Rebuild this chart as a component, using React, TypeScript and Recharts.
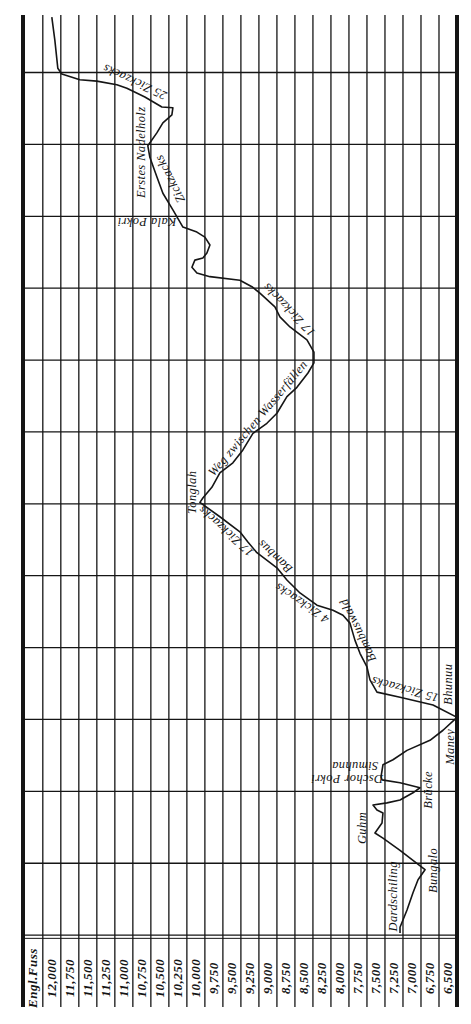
import React from "react";
import { ScatterChart, Scatter, XAxis, YAxis, ReferenceLine } from "recharts";

// elevation (engl. feet) and distance along the route (grid rows, top = 0.2)
const profileElev = [
  12000, 11958, 11917, 11861, 11611, 11375, 11097, 10958, 10708, 10472, 10319, 10333,
  10458, 10542, 10667, 10639, 10542, 10458, 10319, 10180, 9986, 9875, 9805, 9847,
  9903, 10014, 10055, 9986, 9805, 9389, 9222, 9111, 8903, 8833, 8694, 8458,
  8361, 8361, 8444, 8597, 8736, 8875, 9014, 9111, 9208, 9347, 9486, 9667,
  9778, 9903, 9944, 9667, 9389, 9278, 9153, 8875, 8736, 8555, 8319, 8097,
  7958, 7861, 7791, 7722, 7625, 7583, 7486, 7166, 6708, 6375, 6569, 6750,
  7069, 7264, 7403, 7430, 7416, 7166, 6889, 6986, 7166, 7347, 7541, 7486,
  7403, 7416, 7514, 7403, 7166, 6986, 6819, 6916, 6986, 7069, 7166, 7166,
];
const profileDist = [
  0.23, 0.55, 0.94, 1.02, 1.1, 1.12, 1.17, 1.22, 1.34, 1.48, 1.49, 1.59,
  1.7, 1.84, 2.02, 2.18, 2.45, 2.68, 2.91, 3.15, 3.22, 3.29, 3.4, 3.51,
  3.58, 3.61, 3.71, 3.79, 3.84, 3.89, 3.98, 4.07, 4.26, 4.4, 4.54, 4.72,
  4.89, 5.04, 5.18, 5.38, 5.51, 5.74, 5.88, 5.95, 6.02, 6.25, 6.43, 6.57,
  6.77, 6.92, 6.98, 7.18, 7.39, 7.53, 7.68, 7.89, 8.06, 8.24, 8.41, 8.48,
  8.55, 8.66, 8.9, 9.08, 9.27, 9.45, 9.62, 9.69, 9.8, 9.97, 10.15, 10.29,
  10.43, 10.56, 10.63, 10.8, 10.84, 10.88, 10.95, 11.02, 11.12, 11.16, 11.19, 11.26,
  11.3, 11.44, 11.58, 11.65, 11.82, 11.96, 12.09, 12.23, 12.41, 12.65, 12.89, 12.97,
];

const labelText = [
  "25 Zickzacks", "Erstes Nadelholz", "Zickzacks", "Kala Pokri", "17 Zickzacks",
  "Weg zwischen Wasserfällen", "Tonglah", "17 Zickzacks", "Bambus", "4 Zickzacks",
  "Bambuswald", "15 Zickzacks", "Bhunuu", "Maney", "Simuhna", "Dschor Pokri",
  "Brücke", "Guhm", "Bungalo", "Dardschiling",
];
const labelElev = [
  10847, 10764, 10360, 10680, 8708, 9139, 10055, 9583, 8903, 8527,
  7750, 7097, 6500, 6472, 7791, 7902, 6777, 7694, 6708, 7264,
];
const labelDist = [
  1.13, 2.11, 2.48, 3.08, 4.3, 5.81, 6.84, 7.38, 7.73, 8.38,
  8.76, 9.58, 9.51, 10.38, 10.65, 10.83, 10.98, 11.51, 12.1, 12.46,
];
const labelAngle = [
  205, -90, -117, 180, 226, -50, -90, 222, 223, 214,
  244, 195, -90, -90, 180, 180, -90, -90, -90, -90,
];

const tickValues = [
  12262, 12000, 11750, 11500, 11250, 11000, 10750, 10500, 10250, 10000, 9750, 9500,
  9250, 9000, 8750, 8500, 8250, 8000, 7750, 7500, 7250, 7000, 6750, 6500,
];
const tickLabels = [
  "Engl.Fuss", "12,000", "11,750", "11,500", "11,250", "11,000", "10,750", "10,500",
  "10,250", "10,000", "9,750", "9,500", "9,250", "9,000", "8,750", "8,500", "8,250",
  "8,000", "7,750", "7,500", "7,250", "7,000", "6,750", "6,500",
];

const columnEdges = tickValues.slice(1).map((v) => v + 125).concat([6375]);
const rows = [1, 2, 3, 4, 5, 6, 7, 8, 9, 10, 11, 12, 13];

const profile = profileElev.map((e, i) => ({ e, d: profileDist[i] }));
const labels = labelText.map((text, i) => ({
  e: labelElev[i],
  d: labelDist[i],
  text,
  angle: labelAngle[i],
}));

const INK = "#151515";
const serif = "'Liberation Serif', 'DejaVu Serif', serif";

const AxisTick = (props: any) => {
  const { x, y, payload } = props;
  const i = tickValues.indexOf(payload.value);
  return (
    <text
      x={x}
      y={y - 29}
      transform={`rotate(-90 ${x} ${y - 29})`}
      textAnchor="middle"
      dominantBaseline="central"
      fontFamily={serif}
      fontStyle="italic"
      fontWeight="bold"
      fontSize={13}
      letterSpacing={0.5}
      fill={INK}
    >
      {tickLabels[i]}
    </text>
  );
};

const RouteLabel = (props: any) => {
  const { cx, cy, payload } = props;
  return (
    <text
      x={cx}
      y={cy}
      transform={`rotate(${payload.angle} ${cx} ${cy})`}
      textAnchor="middle"
      dominantBaseline="central"
      fontFamily={serif}
      fontStyle="italic"
      fontSize={12.5}
      letterSpacing={0.4}
      fill={INK}
    >
      {payload.text}
    </text>
  );
};

export default function App() {
  return (
    <div style={{ position: "absolute", left: 0, top: 0, width: 471, height: 1024, background: "#fff" }}>
      <ScatterChart width={471} height={1024} margin={{ top: 15, right: 14, bottom: 16, left: 23 }}>
        <XAxis
          type="number"
          dataKey="e"
          domain={[6375, 12400]}
          reversed
          allowDataOverflow
          ticks={tickValues}
          interval={0}
          tick={<AxisTick />}
          tickLine={false}
          axisLine={false}
          tickSize={0}
          tickMargin={0}
          height={1}
        />
        <YAxis type="number" dataKey="d" domain={[0.2, 14]} reversed allowDataOverflow hide />
        {columnEdges.map((v) => (
          <ReferenceLine key={`c${v}`} x={v} stroke={INK} strokeWidth={v === 6375 ? 4 : 1.3} />
        ))}
        <ReferenceLine x={12400} stroke={INK} strokeWidth={4} />
        {rows.map((r) => (
          <ReferenceLine key={`r${r}`} y={r} stroke={INK} strokeWidth={1.3} />
        ))}
        <ReferenceLine y={13.045} stroke={INK} strokeWidth={1} />
        <Scatter
          data={profile}
          line={{ stroke: INK, strokeWidth: 1.6, strokeLinejoin: "round" }}
          lineType="joint"
          shape={() => <g />}
          isAnimationActive={false}
        />
        <Scatter data={labels} shape={<RouteLabel />} isAnimationActive={false} />
      </ScatterChart>
    </div>
  );
}
